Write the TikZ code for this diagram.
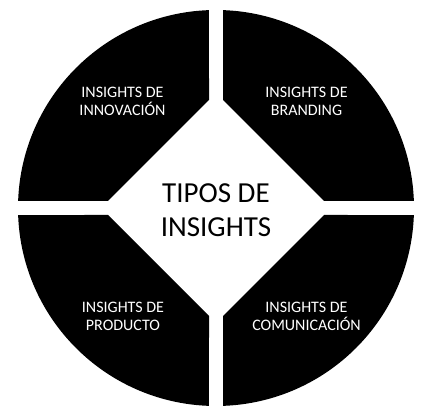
\documentclass[tikz,border=0pt]{standalone}
\usepackage{fontspec}
\setmainfont{Carlito}
\begin{document}
\begin{tikzpicture}[x=1pt,y=1pt,
  quad/.style={fill=black},
  qlabel/.style={text=white,align=center,inner sep=0pt,font=\fontsize{16}{18}\selectfont},
  clabel/.style={text=black,align=center,inner sep=0pt,font=\fontsize{29}{34}\selectfont}]
\useasboundingbox (-216,-211) rectangle (219,208);
\foreach \a in {0,90,180,270}{
  \begin{scope}[rotate=\a]
    \fill[quad] (-7,108) -- (92.03:198) arc[start angle=92.03,end angle=177.97,radius=198] -- (-108,7) -- cycle;
  \end{scope}
}
\node[qlabel] (inno) at (-93.5,107) {INSIGHTS DE\\INNOVACIÓN};
\node[qlabel] (brand) at (90.5,107) {INSIGHTS DE\\BRANDING};
\node[qlabel] (prod) at (-93,-108) {INSIGHTS DE\\PRODUCTO};
\node[qlabel] (comu) at (90.5,-108) {INSIGHTS DE\\COMUNICACIÓN};
\node[clabel] (tipos) at (0,-2) {TIPOS DE\\INSIGHTS};
\end{tikzpicture}
\end{document}
